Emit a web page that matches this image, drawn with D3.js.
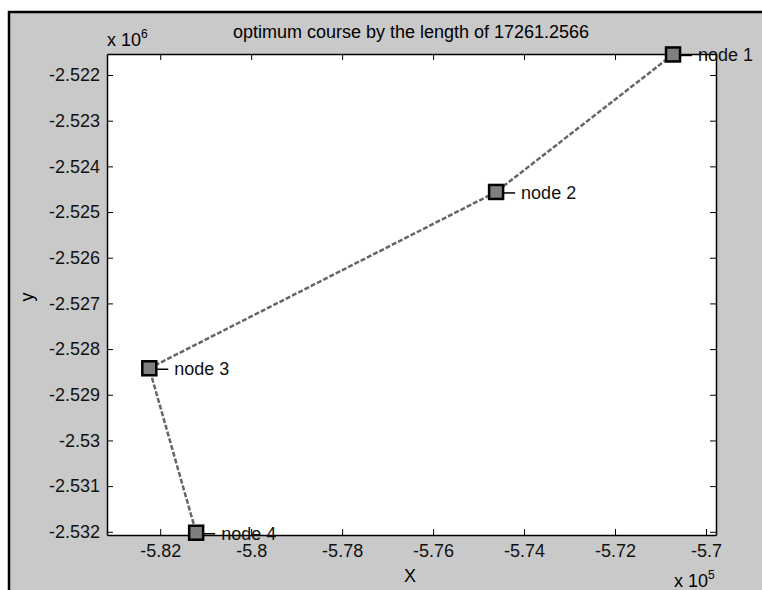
<!DOCTYPE html>
<html>
<head>
<meta charset="utf-8">
<script src="https://cdn.jsdelivr.net/npm/d3@7"></script>
<style>
  body { margin: 0; background: #fff; }
  text { font-family: "Liberation Sans", Arial, sans-serif; }
</style>
</head>
<body>
<svg id="chart" width="762" height="590"></svg>
<script>
// route points
var nodeNames = ["node 1", "node 2", "node 3", "node 4"];
var nodeX = [-570725, -574615, -582240, -581210];
var nodeY = [-2521550, -2524560, -2528420, -2532020];

var xTicks = [-582000, -580000, -578000, -576000, -574000, -572000, -570000];
var yTicks = [-2522000, -2523000, -2524000, -2525000, -2526000, -2527000,
              -2528000, -2529000, -2530000, -2531000, -2532000];
var xDomain = [-583170, -569780];
var yDomain = [-2532070, -2521540];

var titleText = "optimum course by the length of 17261.2566";

var svg = d3.select("#chart");
var width = 762, height = 590;
var padding = {top: 54, bottom: 55, left: 107, right: 46};
var fs = "18px";

// figure background with the black frame
svg.append("rect")
    .attr("x", 9).attr("y", 12)
    .attr("width", width).attr("height", height)
    .style("fill", "#c9c9c9")
    .style("stroke", "#000")
    .style("stroke-width", 2.5);

var plotW = width - padding.left - padding.right;
var plotH = height - padding.top - padding.bottom;

var x = d3.scaleLinear().domain(xDomain).range([padding.left, padding.left + plotW]);
var y = d3.scaleLinear().domain(yDomain).range([padding.top + plotH, padding.top]);

svg.append("rect")
    .attr("x", padding.left).attr("y", padding.top)
    .attr("width", plotW).attr("height", plotH)
    .style("fill", "#fff");

// matlab style labels, plain hyphen for the minus
var fmtX = function(d) { return String(+(d / 1e5).toFixed(2)); };
var fmtY = function(d) { return String(+(d / 1e6).toFixed(3)); };

var xAxis = d3.axisBottom(x).tickValues(xTicks).tickFormat(fmtX).tickSizeInner(-6).tickSizeOuter(0).tickPadding(9);
var xAxisTop = d3.axisTop(x).tickValues(xTicks).tickFormat("").tickSizeInner(-6).tickSizeOuter(0);
var yAxis = d3.axisLeft(y).tickValues(yTicks).tickFormat(fmtY).tickSizeInner(-6).tickSizeOuter(0).tickPadding(7);
var yAxisRight = d3.axisRight(y).tickValues(yTicks).tickFormat("").tickSizeInner(-6).tickSizeOuter(0);

svg.append("g").attr("transform", "translate(0," + (padding.top + plotH) + ")").call(xAxis);
svg.append("g").attr("transform", "translate(0," + padding.top + ")").call(xAxisTop);
svg.append("g").attr("transform", "translate(" + padding.left + ",0)").call(yAxis);
svg.append("g").attr("transform", "translate(" + (padding.left + plotW) + ",0)").call(yAxisRight);

svg.selectAll(".domain").style("stroke", "#000").style("stroke-width", 1.5);
svg.selectAll(".tick line").style("stroke", "#000");
svg.selectAll(".tick text").style("font-size", fs).style("fill", "#111");

// exponent labels
var ex1 = svg.append("text").attr("x", padding.left).attr("y", 46).style("font-size", fs);
ex1.append("tspan").text("x 10");
ex1.append("tspan").attr("dy", -8).style("font-size", "12px").text("6");

var ex2 = svg.append("text").attr("x", padding.left + plotW - 42).attr("y", 587).style("font-size", fs);
ex2.append("tspan").text("x 10");
ex2.append("tspan").attr("dy", -8).style("font-size", "12px").text("5");

svg.append("text")
    .attr("x", 411).attr("y", 38)
    .attr("text-anchor", "middle")
    .style("font-size", fs)
    .text(titleText);

svg.append("text")
    .attr("x", 410).attr("y", 582)
    .attr("text-anchor", "middle")
    .style("font-size", fs)
    .text("X");

svg.append("text")
    .attr("transform", "translate(33,297) rotate(-90)")
    .attr("text-anchor", "middle")
    .style("font-size", fs)
    .text("y");

var pts = nodeX.map(function(d, i) { return {x: d, y: nodeY[i], name: nodeNames[i]}; });

var line = d3.line()
    .x(function(d) { return x(d.x); })
    .y(function(d) { return y(d.y); });

svg.append("path")
    .datum(pts)
    .attr("d", line)
    .style("fill", "none")
    .style("stroke", "#666")
    .style("stroke-width", 2.5)
    .style("stroke-dasharray", "5,2");

var s = 14;
svg.selectAll("rect.node")
    .data(pts)
    .enter()
    .append("rect")
    .attr("class", "node")
    .attr("x", function(d) { return x(d.x) - s / 2; })
    .attr("y", function(d) { return y(d.y) - s / 2; })
    .attr("width", s).attr("height", s)
    .style("fill", "#7f7f7f")
    .style("stroke", "#000")
    .style("stroke-width", 2.5);

svg.selectAll("line.lbl")
    .data(pts)
    .enter()
    .append("line")
    .attr("x1", function(d) { return x(d.x) + s / 2; })
    .attr("x2", function(d) { return x(d.x) + s / 2 + 12; })
    .attr("y1", function(d) { return y(d.y) + 1; })
    .attr("y2", function(d) { return y(d.y) + 1; })
    .style("stroke", "#000")
    .style("stroke-width", 1.5);

svg.selectAll("text.lbl")
    .data(pts)
    .enter()
    .append("text")
    .attr("class", "lbl")
    .attr("x", function(d) { return x(d.x) + s / 2 + 18; })
    .attr("y", function(d) { return y(d.y) + 7; })
    .style("font-size", fs)
    .style("fill", "#111")
    .text(function(d) { return d.name; });
</script>
</body>
</html>
